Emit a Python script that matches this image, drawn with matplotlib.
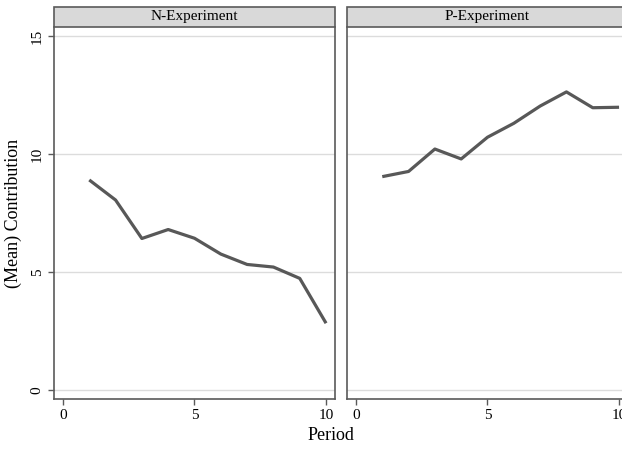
import numpy as np
import matplotlib.pyplot as plt
from matplotlib.patches import Rectangle

plt.rcParams['font.family'] = ['Liberation Serif', 'DejaVu Serif']

# data
periods = [1, 2, 3, 4, 5, 6, 7, 8, 9, 10]
n_experiment = [8.9, 8.05, 6.42, 6.8, 6.43, 5.76, 5.32, 5.21, 4.73, 2.83]
p_experiment = [9.04, 9.26, 10.21, 9.79, 10.71, 11.3, 12.03, 12.63, 11.96, 11.98]
panel_titles = ["N-Experiment", "P-Experiment"]
y_ticks = [0, 5, 10, 15]
x_ticks = [0, 5, 10]

W, H = 622, 449
fig = plt.figure(figsize=(W / 100, H / 100), dpi=100)

frame_col = "#5a5a5a"
line_col = "#585858"
grid_col = "#dcdcdc"

lefts = [54, 347]
panel_w, panel_top, panel_bot = 281, 27, 399
strip_h = 20

axes = []
for i, (series, title) in enumerate(zip([n_experiment, p_experiment], panel_titles)):
    ax = fig.add_axes([lefts[i] / W, (H - panel_bot) / H, panel_w / W, (panel_bot - panel_top) / H])
    ax.plot(periods, series, color=line_col, lw=2.3, solid_capstyle="butt", zorder=3)
    ax.set_xlim(-0.34, 10.34)
    ax.set_ylim(-0.38, 15.38)
    ax.set_xticks(x_ticks)
    ax.set_yticks(y_ticks)
    for y in y_ticks:
        ax.axhline(y, color=grid_col, lw=1.0, zorder=1)
    for s in ax.spines.values():
        s.set_color(frame_col)
        s.set_linewidth(1.2)
    ax.spines["top"].set_visible(False)
    ax.tick_params(axis="both", colors=frame_col, labelcolor="black", length=4, width=1.0,
                   labelsize=11, direction="out")
    if i == 0:
        for lbl in ax.get_yticklabels():
            lbl.set_rotation(90)
            lbl.set_va("center")
        ax.set_ylabel("(Mean) Contribution", fontsize=13, labelpad=6)
    else:
        ax.tick_params(axis="y", left=False, labelleft=False)
    # strip header
    frac = strip_h / (panel_bot - panel_top)
    ax.add_patch(Rectangle((0, 1), 1, frac, transform=ax.transAxes, clip_on=False,
                           facecolor="#d9d9d9", edgecolor=frame_col, lw=1.2))
    ax.text(0.5, 1 + frac / 2, title, transform=ax.transAxes, ha="center", va="center",
            fontsize=11)
    axes.append(ax)

fig.text(331 / W, 1 - 436 / H, "Period", ha="center", va="center", fontsize=13)

fig.savefig("out.png", dpi=100)
